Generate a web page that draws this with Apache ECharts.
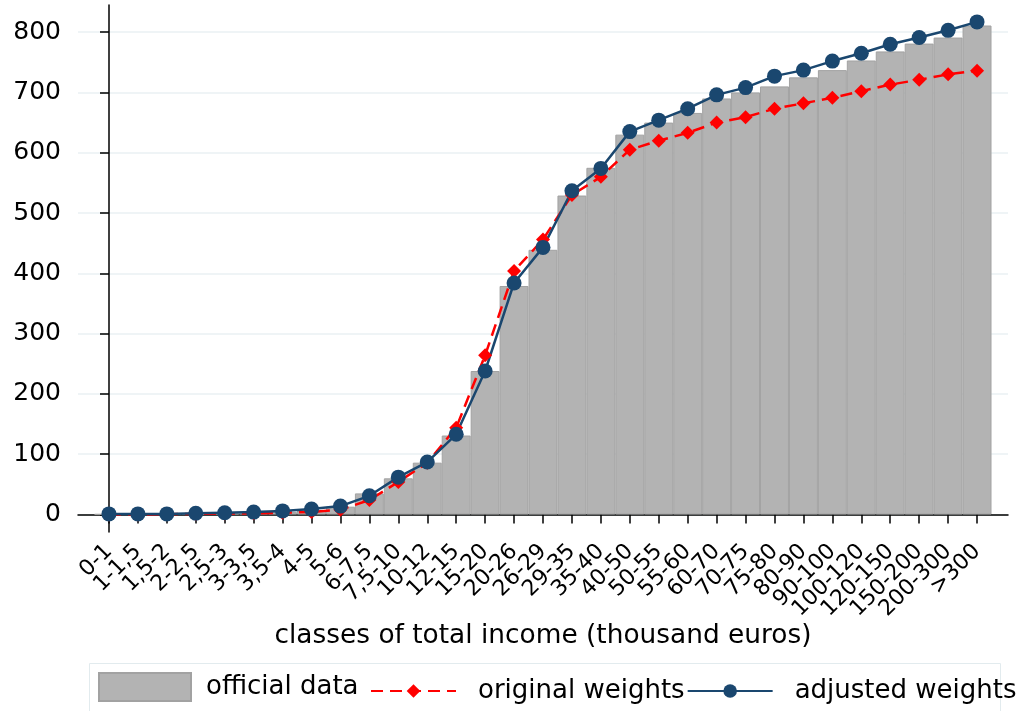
<!DOCTYPE html>
<html>
<head>
    <meta charset="UTF-8">
    <title>classes of total income</title>
    <script src="https://cdn.jsdelivr.net/npm/echarts@6/dist/echarts.min.js"></script>
    <style>
        body { margin: 0; background: #fff; }
        #chart { width: 1027px; height: 711px; }
    </style>
</head>
<body>
    <div id="chart"></div>

    <script>
        var classes = ['0-1', '1-1,5', '1,5-2', '2-2,5', '2,5-3', '3-3,5', '3,5-4', '4-5', '5-6', '6-7,5',
            '7,5-10', '10-12', '12-15', '15-20', '20-26', '26-29', '29-35', '35-40', '40-50', '50-55',
            '55-60', '60-70', '70-75', '75-80', '80-90', '90-100', '100-120', '120-150', '150-200', '200-300', '>300'];

        var official = [0.5, 0.8, 1, 1.5, 2, 3, 4, 7, 13, 35,
            60, 86, 131, 238, 379, 439, 529, 575, 630, 650,
            666, 690, 700, 710, 725, 737, 753, 768, 781, 791, 811];

        var original = [0, 0, 0.5, 1, 1.5, 2, 3, 4, 8, 24,
            54, 86, 144, 264, 404, 456, 530, 560, 605, 620,
            633, 650, 659, 673, 682, 691, 702, 713, 721, 730, 736];

        var adjusted = [1, 1, 1, 2, 3, 4, 6, 9, 14, 31,
            62, 87, 133, 238, 384, 443, 537, 574, 635, 654,
            673, 696, 708, 727, 737, 752, 765, 780, 791, 803, 817];

        var yTicks = [0, 100, 200, 300, 400, 500, 600, 700, 800];

        var font = 'DejaVu Sans';
        var idx = classes.map(function (c, i) { return i; });
        // labels overlap when rotated, so even and odd ones go on two stacked axes
        var evenIdx = idx.filter(function (i) { return i % 2 === 0; });
        var oddIdx = idx.filter(function (i) { return i % 2 === 1; });
        function pairs(arr) {
            return arr.map(function (v, i) { return [i, v]; });
        }
        function labelAxis(values) {
            return {
                type: 'value',
                min: -1.07, max: 31.07,
                position: 'bottom',
                axisLine: {show: false},
                axisTick: {show: false},
                splitLine: {show: false},
                axisLabel: {
                    customValues: values,
                    showMinLabel: true,
                    showMaxLabel: true,
                    rotate: 45,
                    margin: 16,
                    fontFamily: font, fontSize: 22, color: '#000',
                    formatter: function (v) { return classes[Math.round(v)]; }
                }
            };
        }

        var chart = echarts.init(document.getElementById('chart'), null, {renderer: 'canvas'});

        var mainX = {
            type: 'value',
            min: -1.07, max: 31.07,
            position: 'bottom',
            name: 'classes of total income (thousand euros)',
            nameLocation: 'middle',
            nameGap: 91,
            nameTextStyle: {fontFamily: font, fontSize: 26.4, color: '#000'},
            axisLine: {lineStyle: {color: '#000', width: 1.5}},
            axisTick: {show: true, customValues: idx, length: 9, lineStyle: {color: '#000', width: 1.5}},
            axisLabel: {show: false},
            splitLine: {show: false}
        };

        chart.setOption({
            animation: false,
            backgroundColor: '#ffffff',
            grid: {left: 78, right: 19, top: 5, bottom: 179, containLabel: false},
            graphic: [{
                type: 'rect',
                left: 87, top: 661,
                shape: {width: 911, height: 49},
                style: {fill: 'none', stroke: '#e2ebee', lineWidth: 1}
            }],
            legend: [{
                data: ['official data'],
                icon: 'rect',
                left: 98, top: 672, padding: 0,
                itemWidth: 92, itemHeight: 28,
                textStyle: {fontFamily: font, fontSize: 26, color: '#000', padding: [0, 0, 0, 10]}
            }, {
                data: ['original weights', 'adjusted weights'],
                left: 370, top: 678, padding: 0,
                itemWidth: 85, itemHeight: 17, itemGap: 2,
                textStyle: {fontFamily: font, fontSize: 26, color: '#000', padding: [0, 0, 0, 17]}
            }],
            xAxis: [mainX, labelAxis(evenIdx), labelAxis(oddIdx)],
            yAxis: {
                type: 'value',
                min: -29, max: 845,
                axisLine: {show: true, lineStyle: {color: '#000', width: 1.5}},
                axisTick: {show: true, customValues: yTicks, length: 9, lineStyle: {color: '#000', width: 1.5}},
                axisLabel: {customValues: yTicks, margin: 17, fontFamily: font, fontSize: 25, color: '#000'},
                splitLine: {show: true, lineStyle: {color: '#eaf1f3', width: 1.5}}
            },
            series: [{
                name: 'official data',
                type: 'bar',
                data: pairs(official),
                barWidth: '100%',
                itemStyle: {color: '#b3b3b3', borderColor: '#a2a2a2', borderWidth: 1}
            }, {
                name: 'original weights',
                type: 'line',
                data: pairs(original),
                symbol: 'diamond',
                symbolSize: 14,
                lineStyle: {color: '#ff0000', width: 2.5, type: [12, 7]},
                itemStyle: {color: '#ff0000'}
            }, {
                name: 'adjusted weights',
                type: 'line',
                data: pairs(adjusted),
                symbol: 'circle',
                symbolSize: 15,
                lineStyle: {color: '#1a476f', width: 2.5},
                itemStyle: {color: '#1a476f'}
            }]
        });
    </script>
</body>
</html>
